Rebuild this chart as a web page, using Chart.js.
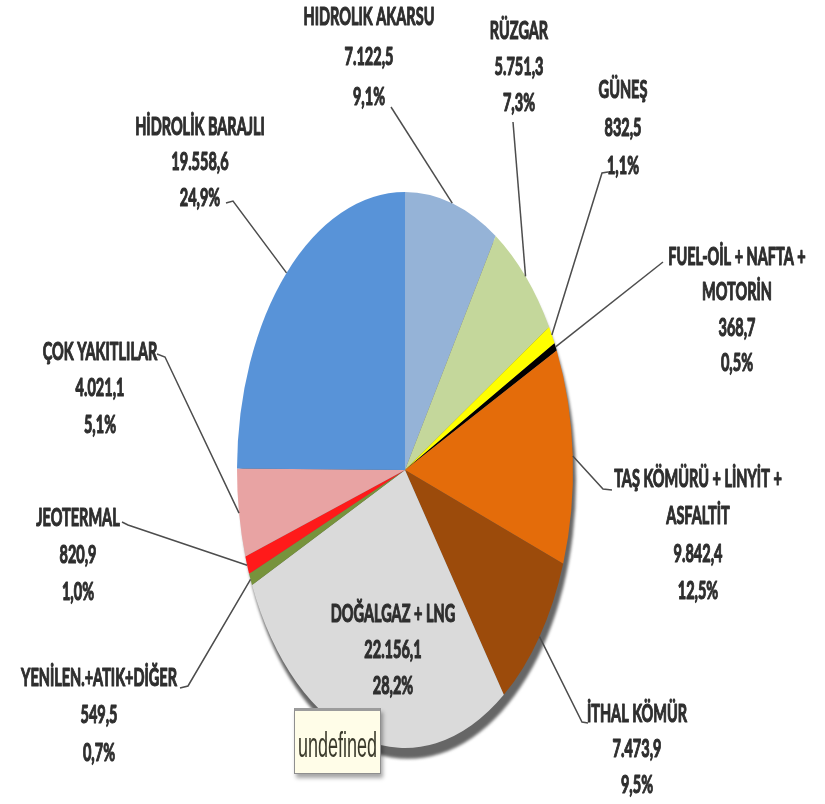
<!DOCTYPE html>
<html>
<head>
<meta charset="utf-8">
<script src="https://cdn.jsdelivr.net/npm/chart.js@4.4.0/dist/chart.umd.min.js"></script>
<style>
	html, body { margin: 0; padding: 0; background: #fff; }
	#wrap { position: relative; width: 825px; height: 804px; overflow: hidden; }
	#chart_mix { display: block; filter: blur(0.4px); }
	#tip {
		position: absolute; left: 294px; top: 708px; width: 87px; height: 66px;
		box-sizing: border-box; background: #fffde8;
		border: 1px solid #8f8f8f; border-top: 3px solid #9c9c9c;
		box-shadow: 2px 4px 4px rgba(0, 0, 0, .35);
		font-family: "Liberation Sans", Arial, sans-serif; font-size: 18px; color: #3b3a2c;
	}
	#tip span { position: absolute; left: 3px; top: 17px; line-height: 18px; transform: scaleY(1.9); transform-origin: 0 0; filter: blur(0.3px); }
</style>
</head>
<body>
<div id="wrap">
	<canvas id="chart_mix" width="825" height="804"></canvas>
	<div id="tip"><span>undefined</span></div>
</div>
<script>
// kurulu güç dağılımı (MW), saat yönünde tepeden başlayarak
const sourceNames = [
	"HIDROLIK AKARSU",
	"RÜZGAR",
	"GÜNEŞ",
	"FUEL-OİL + NAFTA +\nMOTORİN",
	"TAŞ KÖMÜRÜ + LİNYİT +\nASFALTİT",
	"İTHAL KÖMÜR",
	"DOĞALGAZ + LNG",
	"YENİLEN.+ATIK+DİĞER",
	"JEOTERMAL",
	"ÇOK YAKITLILAR",
	"HİDROLİK BARAJLI"
];
const sourceValues = [7122.5, 5751.3, 832.5, 368.7, 9842.4, 7473.9, 22156.1, 549.5, 820.9, 4021.1, 19558.6];

const sliceColors = [
	'#95b3d7', '#c4d79b', '#ffff00', '#000000', '#e46c0a', '#9c4b0b',
	'#dadada', '#77933c', '#ff1a1a', '#e8a3a3', '#5893d8'
];

// etiket yerleşimi: [x, ilk satır y, satır aralığı]
const labelAt = [
	[369, 17, 40], [519, 31, 36], [623, 90, 38], [737, 257, 35.5],
	[698, 479, 37.5], [637, 714, 35.5], [393, 614, 36], [99, 678, 37.5],
	[78, 518, 37], [100, 352, 36.5], [200, 127, 35.5]
];
// kılavuz çizgilerinin etiket tarafındaki noktaları
const leaderFrom = [
	[[391, 107]],
	[[513, 122]],
	[[608, 172], [602, 173]],
	[[663, 262]],
	[[612, 490], [603, 489]],
	[[588, 723], [582, 722]],
	null,
	[[180, 688], [188, 686]],
	[[122, 522], [128, 525]],
	[[157, 354], [165, 357]],
	[[226, 203], [233, 201]]
];

const SQUASH = 1.655;
const total = sourceValues.reduce((a, b) => a + b, 0);

function trNumber(v){
	const parts = v.toFixed(1).split(".");
	return parts[0].replace(/\B(?=(\d{3})+(?!\d))/g, ".") + "," + parts[1];
}
function trPercent(v){
	return (v / total * 100).toFixed(1).replace(".", ",") + "%";
}

// pastayı dikeyde uzatıp altına gölge kenar çizer
const ellipsePlugin = {
	id: 'ellipse',
	beforeDatasetsDraw(chart){
		const ctx = chart.ctx;
		const arc = chart.getDatasetMeta(0).data[0];
		ctx.save();
		ctx.translate(arc.x, arc.y);
		ctx.scale(1, SQUASH);
		ctx.translate(-arc.x, -arc.y);

		ctx.save();
		ctx.filter = 'blur(1.5px)';
		ctx.fillStyle = '#666666';
		ctx.beginPath();
		ctx.arc(arc.x + 3, arc.y + 6.5, arc.outerRadius, 0, Math.PI * 2);
		ctx.fill();
		ctx.restore();
	},
	afterDatasetsDraw(chart){
		chart.ctx.restore();
	}
};

// dilim etiketleri ve kılavuz çizgileri
const labelPlugin = {
	id: 'sliceLabels',
	afterDraw(chart){
		const ctx = chart.ctx;
		const arcs = chart.getDatasetMeta(0).data;
		ctx.save();
		ctx.strokeStyle = '#4d4d4d';
		ctx.lineWidth = 1.5;
		arcs.forEach(function(arc, i){
			const pts = leaderFrom[i];
			if(!pts) return;
			const mid = (arc.startAngle + arc.endAngle) / 2;
			const tipX = arc.x + arc.outerRadius * Math.cos(mid);
			const tipY = arc.y + arc.outerRadius * SQUASH * Math.sin(mid);
			ctx.beginPath();
			ctx.moveTo(pts[0][0], pts[0][1]);
			for(let k = 1; k < pts.length; k++) ctx.lineTo(pts[k][0], pts[k][1]);
			ctx.lineTo(tipX, tipY);
			ctx.stroke();
		});

		ctx.fillStyle = '#2e2e2e';
		ctx.strokeStyle = '#2e2e2e';
		ctx.lineWidth = 0.7;
		ctx.lineJoin = 'round';
		ctx.textAlign = 'center';
		ctx.textBaseline = 'middle';
		ctx.font = 'bold 14.5px Lato, "Open Sans", sans-serif';
		sourceNames.forEach(function(name, i){
			const lines = name.split("\n");
			lines.push(trNumber(sourceValues[i]));
			lines.push(trPercent(sourceValues[i]));
			const pos = labelAt[i];
			lines.forEach(function(line, j){
				ctx.save();
				ctx.translate(pos[0], pos[1] + j * pos[2]);
				ctx.scale(1, SQUASH);
				ctx.fillText(line, 0, 0);
				ctx.strokeText(line, 0, 0);
				ctx.restore();
			});
		});
		ctx.restore();
	}
};

const chart_mix_ctx = document.getElementById('chart_mix').getContext('2d');
const chart_mix_config = {
	type: 'pie',
	data: {
		labels: sourceNames,
		datasets: [{
			data: sourceValues,
			backgroundColor: sliceColors,
			borderWidth: 0,
			hoverOffset: 0,
			offset: 0,
			clip: false
		}]
	},
	options: {
		responsive: false,
		animation: false,
		events: [],
		layout: {
			padding: { left: 237, right: 252, top: 302, bottom: 166 }
		},
		plugins: {
			legend: { display: false },
			tooltip: { enabled: false },
			title: { display: false }
		}
	},
	plugins: [ellipsePlugin, labelPlugin]
};
const chart_mix = new Chart(chart_mix_ctx, chart_mix_config);
</script>
</body>
</html>
